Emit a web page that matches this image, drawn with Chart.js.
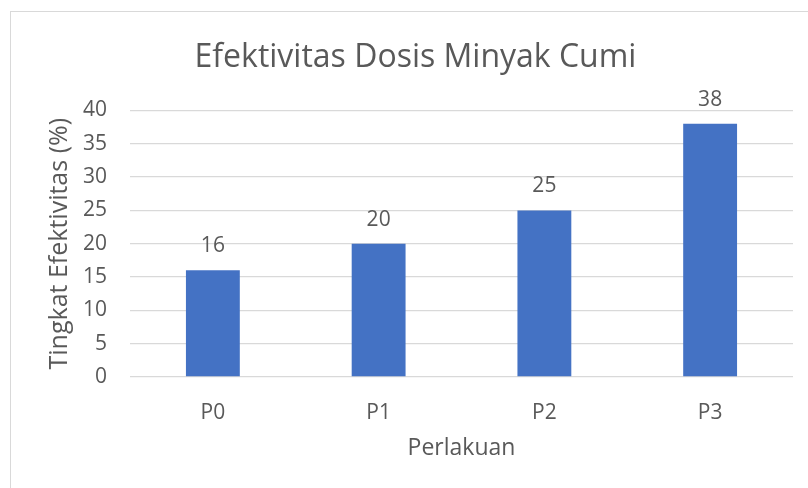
<!DOCTYPE html>
<html>
<head>
<meta charset="utf-8">
<script src="https://cdn.jsdelivr.net/npm/chart.js@4.4.1/dist/chart.umd.min.js"></script>
<style>
  html, body { margin: 0; padding: 0; background: #ffffff; }
  body { width: 808px; height: 488px; position: relative; overflow: hidden; }
  #frame { position: absolute; left: 10px; top: 11px; width: 820px; height: 500px; border: 1px solid #d9d9d9; box-sizing: border-box; }
  #wrap { position: absolute; left: 0; top: 0; width: 808px; height: 488px; }
</style>
</head>
<body>
<div id="frame"></div>
<div id="wrap"><canvas id="c" width="808" height="488"></canvas></div>
<script>
const titleText = "Efektivitas Dosis Minyak Cumi";
const categories = ["P0", "P1", "P2", "P3"];
const values = [16, 20, 25, 38];
const yTitle = "Tingkat Efektivitas (%)";
const xTitle = "Perlakuan";
const yMin = 0, yMax = 40, yStep = 5;

const textColor = "#595959";
const fontFamily = "'Open Sans', 'Noto Sans', sans-serif";

const dataLabels = {
  id: 'dataLabels',
  afterDatasetsDraw(chart) {
    const ctx = chart.ctx;
    const meta = chart.getDatasetMeta(0);
    ctx.save();
    ctx.fillStyle = textColor;
    ctx.font = "21px " + fontFamily;
    ctx.textAlign = 'center';
    ctx.textBaseline = 'middle';
    meta.data.forEach((bar, i) => {
      ctx.fillText(String(chart.data.datasets[0].data[i]), bar.x, bar.y - 24);
    });
    ctx.restore();
  }
};

new Chart(document.getElementById('c'), {
  type: 'bar',
  data: {
    labels: categories,
    datasets: [{
      data: values,
      backgroundColor: '#4472C4',
      borderWidth: 0,
      categoryPercentage: 1.0,
      barPercentage: 0.325
    }]
  },
  options: {
    responsive: false,
    animation: false,
    devicePixelRatio: 1,
    layout: { padding: { left: 38, right: 15, top: 0, bottom: 0 } },
    plugins: {
      legend: { display: false },
      tooltip: { enabled: false },
      title: {
        display: true,
        text: titleText,
        color: textColor,
        font: { family: fontFamily, size: 32, weight: 'normal', lineHeight: 1.2 },
        padding: { top: 39, bottom: 33 }
      }
    },
    scales: {
      x: {
        grid: { display: false, drawTicks: false },
        border: { display: false },
        ticks: { color: textColor, font: { family: fontFamily, size: 21 }, padding: 23 },
        title: {
          display: true, text: xTitle, color: textColor,
          font: { family: fontFamily, size: 23, lineHeight: 1.2 },
          padding: { top: 0, bottom: 26 }
        },
        afterFit(scale) { scale.height = 111; }
      },
      y: {
        min: yMin, max: yMax,
        ticks: { stepSize: yStep, color: textColor, font: { family: fontFamily, size: 21 }, padding: 23 },
        grid: { color: '#d9d9d9', lineWidth: 1.3, drawTicks: false },
        border: { display: false },
        title: {
          display: true, text: yTitle, color: textColor,
          font: { family: fontFamily, size: 25, lineHeight: 1.2 },
          padding: { top: 7, bottom: 0 }
        },
        afterFit(scale) { scale.width = 92; }
      }
    }
  },
  plugins: [dataLabels]
});
</script>
</body>
</html>
